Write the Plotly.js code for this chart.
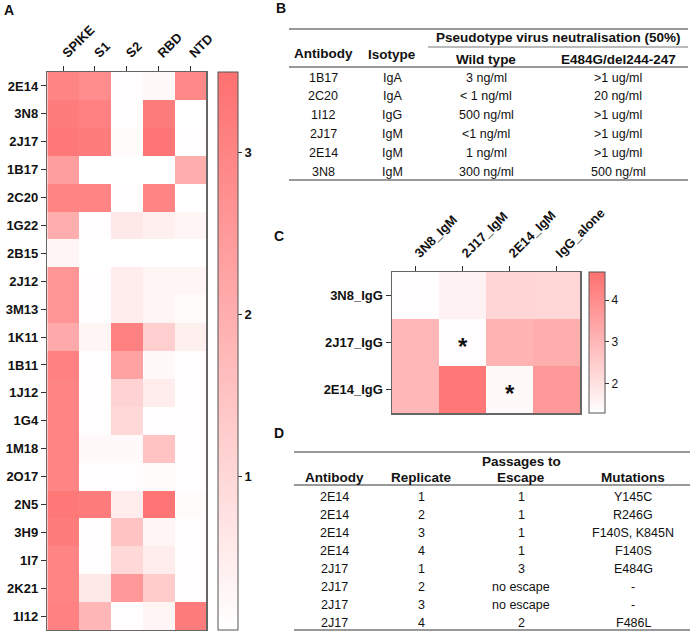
<!DOCTYPE html>
<html><head><meta charset="utf-8">
<script src="https://cdn.plot.ly/plotly-3.0.1.min.js"></script>
<style>body{margin:0;background:#fff;} #chart{width:696px;height:631px;}</style>
</head><body><div id="chart"></div>
<script>
// ---------- Panel A data ----------
const antibodiesA = ['2E14','3N8','2J17','1B17','2C20','1G22','2B15','2J12','3M13','1K11','1B11','1J12','1G4','1M18','2O17','2N5','3H9','1I7','2K21','1I12'];
const regionsA = ['SPIKE','S1','S2','RBD','NTD'];
const spikeA = [3.0,3.2,3.3,2.4,3.0,2.0,0.3,2.6,2.6,2.1,3.1,3.0,3.0,3.0,3.0,3.3,3.2,3.0,3.0,3.1];
const s1A    = [2.8,3.1,3.2,0.05,3.0,0.1,0.05,0.1,0.1,0.3,0.1,0.1,0.1,0.2,0.1,3.2,0.1,0.1,0.6,1.8];
const s2A    = [0.1,0.1,0.15,0.05,0.1,0.6,0.05,0.5,0.5,3.1,2.3,1.1,1.0,0.2,0.1,0.5,1.5,1.0,2.5,0.1];
const rbdA   = [0.2,3.2,3.4,0.05,3.0,0.4,0.05,0.3,0.3,1.2,0.2,0.5,0.1,1.5,0.15,3.4,0.3,0.5,1.3,0.3];
const ntdA   = [2.9,0.05,0.1,2.0,0.05,0.3,0.05,0.3,0.15,0.4,0.1,0.1,0.1,0.1,0.1,0.15,0.1,0.1,0.1,3.2];
const ticksA = [1,2,3];

// ---------- Panel B data ----------
const abB   = ['1B17','2C20','1I12','2J17','2E14','3N8'];
const isoB  = ['IgA','IgA','IgG','IgM','IgM','IgM'];
const wtB   = ['3 ng/ml','< 1 ng/ml','500 ng/ml','<1 ng/ml','1 ng/ml','300 ng/ml'];
const mutB  = ['>1 ug/ml','20 ng/ml','>1 ug/ml','>1 ug/ml','>1 ug/ml','500 ng/ml'];

// ---------- Panel C data ----------
const colsC = ['3N8_IgM','2J17_IgM','2E14_IgM','IgG_alone'];
const rowsC = ['3N8_IgG','2J17_IgG','2E14_IgG'];
const row3N8C  = [1.35,1.6,2.3,2.25];
const row2J17C = [3.0,1.35,3.1,3.2];
const row2E14C = [3.0,4.5,1.45,3.7];
const starsC = [['2J17_IgM','2J17_IgG'],['2E14_IgM','2E14_IgG']];
const ticksC = [2,3,4];

// ---------- Panel D data ----------
const abD   = ['2E14','2E14','2E14','2E14','2J17','2J17','2J17','2J17'];
const repD  = ['1','2','3','4','1','2','3','4'];
const passD = ['1','1','1','1','3','no escape','no escape','2'];
const mutD  = ['Y145C','R246G','F140S, K845N','F140S','E484G','-','-','F486L'];

// ---------- helpers ----------
const W = 696, H = 631;
const px = x => x / W;
const py = y => 1 - y / H;
const FONT = 'Liberation Sans, Arial, sans-serif';
const scale = [[0,'#FFFFFF'],[1,'#FF7070']];

const zA = antibodiesA.map((_, i) => [spikeA[i], s1A[i], s2A[i], rbdA[i], ntdA[i]]);
const zC = [row3N8C, row2J17C, row2E14C];

const traces = [
  {type:'heatmap', x: regionsA, y: antibodiesA, z: zA, xaxis:'x', yaxis:'y',
   colorscale: scale, zmin: 0.05, zmax: 3.5, hoverinfo:'skip',
   colorbar: {x: px(218), xanchor:'left', xpad:0, ypad:0, thickness: 20, thicknessmode:'pixels',
     len: (630-72)/H, lenmode:'fraction', y: py(630), yanchor:'bottom',
     outlinewidth: 1, outlinecolor:'#555', ticks:'outside', ticklen:4, tickcolor:'#333',
     tickvals: ticksA, tickfont:{family:FONT, size:13, color:'#111', weight:'bold'}}},
  {type:'heatmap', x: colsC, y: rowsC, z: zC, xaxis:'x2', yaxis:'y2',
   colorscale: scale, zmin: 1.3, zmax: 4.67, hoverinfo:'skip',
   colorbar: {x: px(589), xanchor:'left', xpad:0, ypad:0, thickness: 16, thicknessmode:'pixels',
     len: (413-272)/H, lenmode:'fraction', y: py(413), yanchor:'bottom',
     outlinewidth: 1, outlinecolor:'#555', ticks:'outside', ticklen:4, tickcolor:'#333',
     tickvals: ticksC, tickfont:{family:FONT, size:12, color:'#111'}}}
];

const axisCommon = {showline:true, mirror:true, linecolor:'#666', linewidth:1.5,
  ticks:'outside', ticklen:5, tickcolor:'#333', showgrid:false, zeroline:false, fixedrange:true,
  tickfont:{family:FONT, size:13, color:'#111', weight:'bold'}};

const annotations = [];
const shapes = [];
function txt(x, y, t, opts) {
  annotations.push(Object.assign({xref:'paper', yref:'paper', x: px(x), y: py(y), text: t,
    showarrow:false, xanchor:'center', yanchor:'middle',
    font:{family:FONT, size:13, color:'#111'}}, opts || {}));
}
function hline(x0, x1, y, w) {
  shapes.push({type:'line', xref:'paper', yref:'paper', x0: px(x0), x1: px(x1), y0: py(y), y1: py(y),
    line:{color:'#777', width: w || 1.5}});
}

// panel letters
const letterFont = {family:FONT, size:14, color:'#111', weight:'bold'};
txt(9, 10, 'A', {font: letterFont});
txt(281, 8, 'B', {font: letterFont});
txt(279, 236, 'C', {font: letterFont});
txt(279, 433, 'D', {font: letterFont});

// ---------- Table B ----------
const hdrFont = {family:FONT, size:13.5, color:'#111', weight:'bold'};
const cellFont = {family:FONT, size:12.5, color:'#111'};
const colXB = [323, 392, 486, 618];
hline(289, 688, 29);
hline(428, 688, 47, 1.2);
hline(289, 688, 67);
hline(289, 688, 180);
txt(558, 37, 'Pseudotype virus neutralisation (50%)', {font: hdrFont});
txt(colXB[0], 53, 'Antibody', {font: hdrFont});
txt(colXB[1], 54, 'Isotype', {font: hdrFont});
txt(colXB[2], 59, 'Wild type', {font: hdrFont});
txt(colXB[3], 59, 'E484G/del244-247', {font: hdrFont});
abB.forEach((a, i) => {
  const y = 77.5 + i * 18.8;
  txt(colXB[0], y, a, {font: cellFont});
  txt(colXB[1], y, isoB[i], {font: cellFont});
  txt(colXB[2], y, wtB[i], {font: cellFont});
  txt(colXB[3], y, mutB[i], {font: cellFont});
});

// ---------- Table D ----------
const colXD = [334, 421, 521, 633];
hline(294, 690, 452);
hline(294, 690, 485);
hline(294, 690, 630);
txt(colXD[0], 477, 'Antibody', {font: hdrFont});
txt(colXD[1], 477, 'Replicate', {font: hdrFont});
txt(colXD[2], 461, 'Passages to', {font: hdrFont});
txt(colXD[2], 477, 'Escape', {font: hdrFont});
txt(colXD[3], 477, 'Mutations', {font: hdrFont});
abD.forEach((a, i) => {
  const y = 497 + i * 18.05;
  txt(colXD[0], y, a, {font: cellFont});
  txt(colXD[1], y, repD[i], {font: cellFont});
  txt(colXD[2], y, passD[i], {font: cellFont});
  txt(colXD[3], y, mutD[i], {font: cellFont});
});

// asterisks in panel C
starsC.forEach(s => {
  annotations.push({xref:'x2', yref:'y2', x: s[0], y: s[1], text:'*', showarrow:false,
    yshift:-4, font:{family:FONT, size:24, color:'#111', weight:'bold'}});
});

const layout = {
  width: W, height: H, margin:{l:0, r:0, t:0, b:0},
  paper_bgcolor:'#fff', plot_bgcolor:'#fff', showlegend:false,
  xaxis: Object.assign({}, axisCommon, {domain:[px(47.3), px(206)], side:'top', tickangle:-45,
    anchor:'y', type:'category', categoryarray: regionsA}),
  yaxis: Object.assign({}, axisCommon, {domain:[py(630), py(72)], autorange:'reversed',
    anchor:'x', type:'category', categoryarray: antibodiesA}),
  xaxis2: Object.assign({}, axisCommon, {domain:[px(392), px(580)], side:'top', tickangle:-45,
    anchor:'y2', type:'category', categoryarray: colsC}),
  yaxis2: Object.assign({}, axisCommon, {domain:[py(413), py(272)], autorange:'reversed',
    anchor:'x2', type:'category', categoryarray: rowsC}),
  annotations, shapes
};

Plotly.newPlot('chart', traces, layout, {displayModeBar:false, staticPlot:true});
</script>
</body></html>
